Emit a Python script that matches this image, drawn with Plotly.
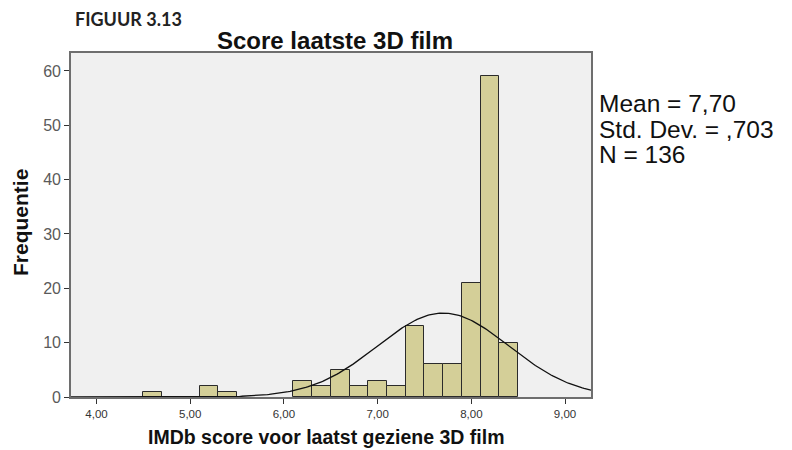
import numpy as np
import plotly.graph_objects as go

# Histogram bins (lower edges, width 0.2) and frequencies
bin_lower = [4.5, 5.1, 5.3, 6.1, 6.3, 6.5, 6.7, 6.9, 7.1, 7.3, 7.5, 7.7, 7.9, 8.1, 8.3]
counts = [1, 2, 1, 3, 2, 5, 2, 3, 2, 13, 6, 6, 21, 59, 10]
bin_width = 0.2

# Summary statistics shown beside the chart
mean_val = 7.70
std_val = 0.703
n_val = 136

x_tickvals = [4, 5, 6, 7, 8, 9]
x_ticktext = ["4,00", "5,00", "6,00", "7,00", "8,00", "9,00"]
y_tickvals = [0, 10, 20, 30, 40, 50, 60]

X_RANGE = [3.728, 9.277]
Y_RANGE = [0, 63.3]

centers = [lo + bin_width / 2 for lo in bin_lower]

# Fitted normal curve scaled to counts
xs = np.linspace(X_RANGE[0], X_RANGE[1], 300)
ys = n_val * bin_width / (std_val * np.sqrt(2 * np.pi)) * np.exp(-0.5 * ((xs - mean_val) / std_val) ** 2)

W, H = 792, 450
ML, MR, MT, MB = 71, 201, 53, 53
PW, PH = W - ML - MR, H - MT - MB


def px_x(px):
    return (px - ML) / PW


def px_y(py):
    return (H - MB - py) / PH


fig = go.Figure()
fig.add_trace(go.Bar(
    x=centers, y=counts, width=bin_width,
    marker=dict(color="#d4cf98", line=dict(color="#2b2b2b", width=1)),
    hoverinfo="x+y",
))
fig.add_trace(go.Scatter(
    x=xs, y=ys, mode="lines",
    line=dict(color="#111111", width=1.3),
    hoverinfo="skip",
))

fig.update_layout(
    width=W, height=H,
    margin=dict(l=ML, r=MR, t=MT, b=MB),
    paper_bgcolor="white",
    plot_bgcolor="#f0f0f0",
    showlegend=False,
    bargap=0,
    font=dict(family="Liberation Sans, Arial, sans-serif", color="#222"),
)

fig.update_xaxes(
    range=X_RANGE, automargin=False,
    tickvals=x_tickvals, ticktext=x_ticktext,
    ticks="outside", ticklen=5, tickcolor="#333",
    tickfont=dict(size=11.5, color="#333"),
    showgrid=False, zeroline=False,
    showline=True, linecolor="#6e6e6e", linewidth=1.6, mirror=True,
)
fig.update_yaxes(
    range=Y_RANGE, automargin=False,
    tickvals=y_tickvals,
    ticks="outside", ticklen=5, tickcolor="#333",
    tickfont=dict(size=16, color="#5a5a5a"),
    showgrid=False, zeroline=False,
    showline=True, linecolor="#6e6e6e", linewidth=1.6, mirror=True,
)

annotations = [
    # Chart title
    dict(text="<b>Score laatste 3D film</b>", x=px_x(335), y=px_y(41),
         xanchor="center", yanchor="middle", font=dict(size=24, color="#111")),
    # Figure label
    dict(text="<b>FIGUUR 3.13</b>", x=px_x(73), y=px_y(19),
         xanchor="left", yanchor="middle",
         font=dict(family="Lato, Open Sans, sans-serif", size=18, color="#222")),
    # Axis titles
    dict(text="<b>IMDb score voor laatst geziene 3D film</b>", x=px_x(326), y=px_y(437),
         xanchor="center", yanchor="middle", font=dict(size=19.5, color="#111")),
    dict(text="<b>Frequentie</b>", x=px_x(20), y=px_y(223), textangle=-90,
         xanchor="center", yanchor="middle", font=dict(size=21, color="#111")),
]

# Statistics block, one line per annotation
stats_lines = [
    f"Mean = {mean_val:.2f}".replace(".", ","),
    f"Std. Dev. = {std_val:.3f}".replace("0.", ","),
    f"N = {n_val}",
]
for i, line in enumerate(stats_lines):
    annotations.append(dict(text=line, x=px_x(597), y=px_y(103.5 + 25.5 * i),
                            xanchor="left", yanchor="middle",
                            font=dict(size=24.5, color="#111")))

for a in annotations:
    a.update(xref="paper", yref="paper", showarrow=False)
fig.update_layout(annotations=annotations)

fig.write_html("out.html")
